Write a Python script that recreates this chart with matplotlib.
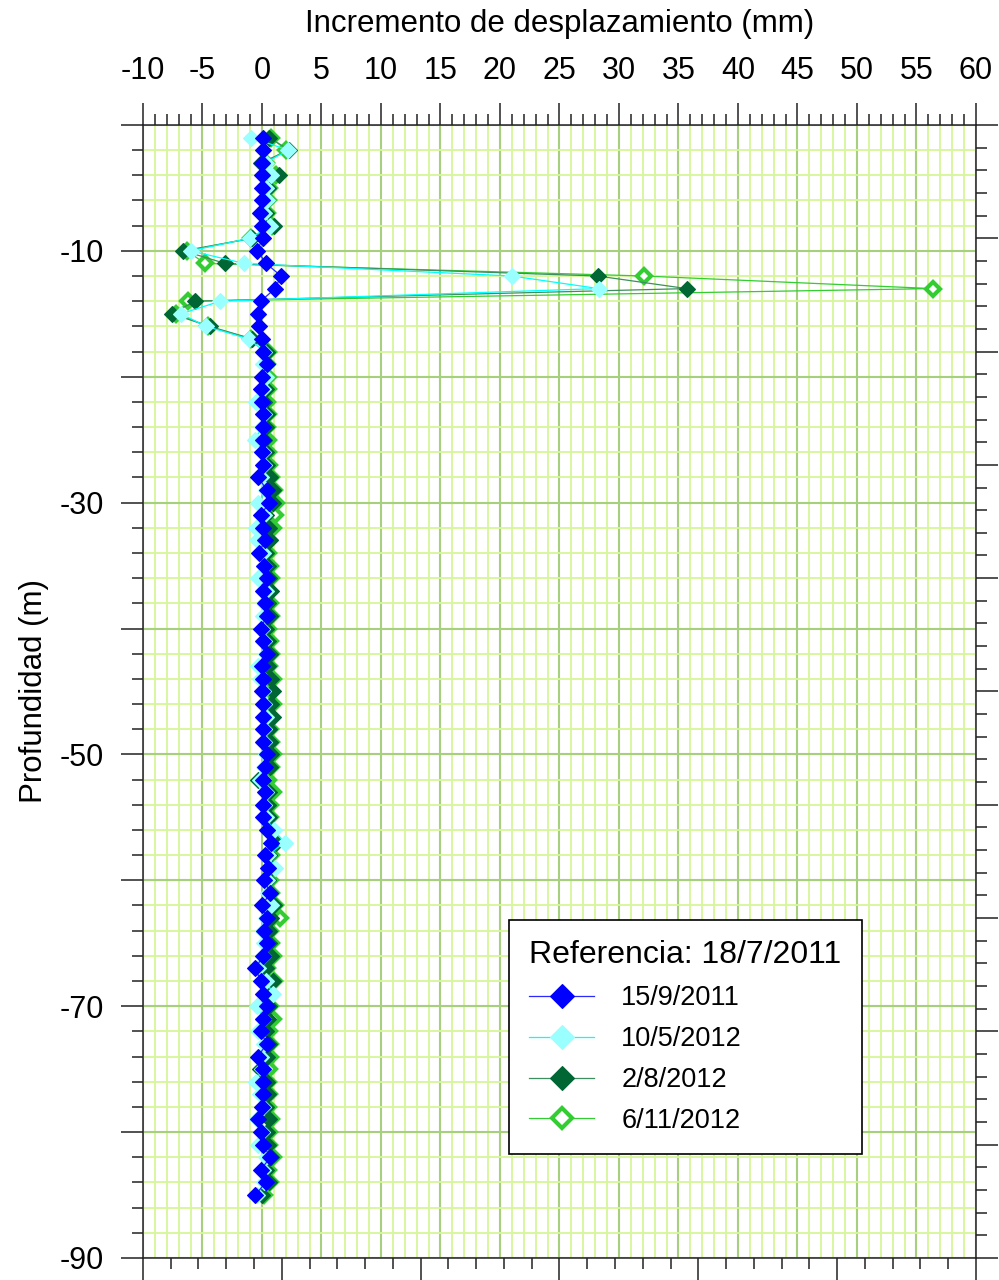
import numpy as np
import matplotlib
matplotlib.use('Agg')
from matplotlib import pyplot as plt
from matplotlib.ticker import MultipleLocator, FuncFormatter

plt.rcParams['font.family'] = ['Liberation Sans', 'DejaVu Sans']
plt.rcParams['axes.unicode_minus'] = False

# depth of each reading (m), one every metre
depth = -np.arange(1, 86)

# displacement increments (mm), from -1 m down to -85 m
inc_15_9_2011 = [0.05, 0.05, 0.0, 0.0, 0.0, 0.0, -0.2, 0.0, 0.05, -0.4,
                 0.35, 1.6, 1.1, -0.1, -0.35, -0.25, 0.0, 0.1, 0.4, 0.0,
                 -0.1, 0.0, 0.05, 0.1, 0.05, 0.0, 0.1, -0.3, 0.4, 0.6,
                 -0.1, 0.1, 0.25, -0.25, 0.2, 0.4, 0.1, 0.25, 0.4, -0.1,
                 0.1, 0.4, 0.0, 0.1, 0.0, 0.1, 0.1, 0.1, 0.1, 0.4,
                 0.25, 0.05, 0.25, 0.1, 0.1, 0.4, 0.8, 0.25, 0.5, 0.2,
                 0.7, 0.0, 0.4, 0.2, 0.4, 0.1, -0.55, -0.1, 0.05, 0.4,
                 0.1, -0.1, 0.4, -0.35, 0.1, 0.05, 0.05, 0.0, -0.35, -0.1,
                 0.1, 0.7, -0.1, 0.3, -0.55]
inc_10_5_2012 = [-0.9, 2.2, 0.3, 0.8, 0.3, 0.4, 0.2, 0.7, -1.0, -6.0,
                 -1.5, 21.0, 28.3, -3.5, -6.8, -4.7, -1.1, 0.2, 0.1, 0.3,
                 0.1, -0.5, 0.2, 0.0, -0.6, 0.1, 0.2, -0.1, 0.3, -0.3,
                 0.2, -0.5, -0.4, 0.1, 0.2, -0.3, 0.3, 0.2, 0.1, 0.0,
                 0.2, 0.3, -0.3, -0.2, 0.1, 0.2, 0.3, 0.2, 0.2, 0.3,
                 0.2, -0.2, 0.3, 0.2, 0.3, 1.0, 1.9, 0.5, 1.1, 0.4,
                 0.5, 0.8, 0.3, 0.1, 0.2, 0.1, -0.3, 0.3, 0.95, -0.4,
                 0.1, -0.3, 0.2, -0.1, 0.0, -0.5, -0.2, 0.1, -0.4, 0.0,
                 -0.3, 0.3, 0.1, 0.2, -0.4]
inc_2_8_2012 = [0.6, 2.3, -0.1, 1.4, 0.5, 0.4, 0.3, 1.0, -0.8, -6.6,
                -3.1, 28.2, 35.7, -5.6, -7.6, -4.4, -0.8, 0.4, 0.3, 0.2,
                0.3, 0.2, 0.4, 0.3, 0.2, 0.3, 0.4, 0.7, 0.95, 0.9,
                0.3, 0.6, 0.7, 0.3, 0.5, 0.6, 0.8, 0.5, 0.7, 0.3,
                0.5, 0.7, 0.5, 0.8, 0.9, 0.8, 0.9, 0.6, 0.7, 0.8,
                0.7, -0.3, 0.6, 0.5, 0.6, 0.7, 1.2, 0.6, 0.8, 0.5,
                0.6, 1.0, 0.8, 0.6, 0.6, 0.8, 0.3, 0.9, 0.5, 0.6,
                0.5, 0.3, 0.6, 0.4, -0.2, 0.4, 0.5, 0.3, 0.6, 0.4,
                0.5, 0.8, 0.3, 0.6, 0.0]
inc_6_11_2012 = [0.8, 2.0, 0.3, 1.2, 0.6, 0.5, 0.4, 0.85, -0.9, -6.3,
                 -4.8, 32.1, 56.4, -6.2, -7.2, -4.5, -0.9, 0.5, 0.4, 0.5,
                 0.5, 0.4, 0.5, 0.4, 0.5, 0.5, 0.6, 0.8, 1.0, 1.2,
                 1.1, 0.9, 0.6, 0.5, 0.7, 0.8, 0.6, 0.7, 0.8, 0.5,
                 0.7, 0.8, 0.6, 0.9, 0.8, 0.9, 0.8, 0.7, 0.8, 0.9,
                 0.8, 0.5, 0.95, 0.7, 0.7, 0.8, 1.1, 0.8, 0.9, 0.7,
                 0.8, 1.1, 1.5, 0.7, 0.8, 0.9, 0.4, 1.0, 0.8, 0.7,
                 0.9, 0.6, 0.7, 0.65, 0.6, 0.5, 0.6, 0.5, 0.8, 0.6,
                 0.6, 0.9, 0.5, 0.7, 0.2]

labels = ['15/9/2011', '10/5/2012', '2/8/2012', '6/11/2012']


fig = plt.figure(figsize=(9.99, 12.8), dpi=100)
ax = fig.add_axes([0.1431, 0.0172, 0.8338, 0.8852])

# drawn bottom to top like the original (latest survey underneath)
h4, = ax.plot(inc_6_11_2012, depth, color='#33cc33', lw=0.9, marker='D', ms=7.6,
              mfc='white', mec='#33cc33', mew=3.0, zorder=3)
h3, = ax.plot(inc_2_8_2012, depth, color='#3d8f5f', lw=0.9, marker='D', ms=8.4,
              mfc='#006633', mec='#006633', mew=0.8, zorder=4)
h2, = ax.plot(inc_10_5_2012, depth, color='#00ffff', lw=0.9, marker='D', ms=8.4,
              mfc='#99ffff', mec='#99ffff', mew=0.8, zorder=5)
h1, = ax.plot(inc_15_9_2011, depth, color='#2a2aff', lw=0.9, marker='D', ms=8.4,
              mfc='#0000ff', mec='#0000ff', mew=0.8, zorder=6)

ax.set_xlim(-10, 60)
ax.set_ylim(-90, 0)
ax.xaxis.tick_top()
ax.xaxis.set_label_position('top')
ax.xaxis.set_major_locator(MultipleLocator(5))
ax.xaxis.set_minor_locator(MultipleLocator(1))
ax.yaxis.set_major_locator(MultipleLocator(10))
ax.yaxis.set_minor_locator(MultipleLocator(2))
ax.yaxis.set_major_formatter(FuncFormatter(
    lambda v, p: '%d' % v if int(round(v)) % 20 == 10 else ''))

ax.tick_params(which='major', length=16, width=1.1, pad=12, color='#222222', labelsize=22)
ax.tick_params(which='minor', length=8, width=1.1, color='#222222')

ax.grid(which='minor', color='#d6f698', lw=1.3)
ax.grid(which='major', color='#a6d07e', lw=1.5)
ax.set_axisbelow(True)
for s in ax.spines.values():
    s.set_color('#222222')
    s.set_linewidth(1.1)

ax.set_xlabel('Incremento de desplazamiento (mm)', fontsize=22.5, labelpad=17)
ax.set_ylabel('Profundidad (m)', fontsize=22.5, labelpad=8)

# unlabeled ticks on the bottom and right sides
ax2 = fig.add_axes(ax.get_position(), frameon=False)
ax2.set_xlim(0, 6)
ax2.set_ylim(0, 10)
ax2.xaxis.set_major_locator(MultipleLocator(1))
ax2.xaxis.set_minor_locator(MultipleLocator(0.2))
ax2.yaxis.set_major_locator(MultipleLocator(1))
ax2.yaxis.set_minor_locator(MultipleLocator(0.2))
ax2.tick_params(which='both', bottom=True, right=True, top=False, left=False,
                labelbottom=False, labelleft=False, labeltop=False, labelright=False,
                color='#222222', width=1.1)
ax2.tick_params(which='major', length=16)
ax2.tick_params(which='minor', length=8)
ax2.patch.set_visible(False)

leg = ax.legend([h1, h2, h3, h4], labels, title='Referencia: 18/7/2011',
                loc='upper left', bbox_to_anchor=(0.4394, 0.2983), borderaxespad=0,
                fontsize=19.5, title_fontsize=23, frameon=True, fancybox=False,
                edgecolor='black', framealpha=1, borderpad=0.75, labelspacing=0.55,
                handlelength=2.4, handletextpad=1.0, markerscale=1.4, alignment='left')
leg.get_frame().set_linewidth(1.2)
leg.set_zorder(10)

fig.savefig('out.png', dpi=100)
